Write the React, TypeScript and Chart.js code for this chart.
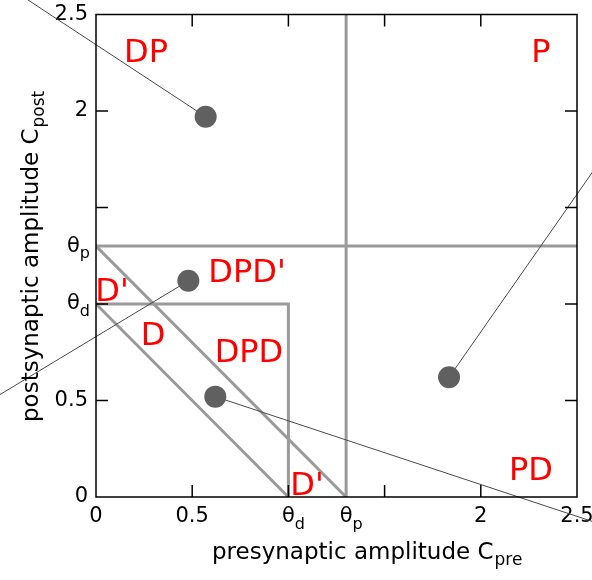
import React, { useEffect, useRef } from "react";
import { Chart, registerables } from "chart.js";

Chart.register(...registerables);

// thresholds
const THETA_D = 1.0;
const THETA_P = 1.3;

// axis ticks
const tickValues = [0, 0.5, 1, 1.3, 1.5, 2, 2.5];
const tickLabels = ["0", "0.5", "", "", "", "2", "2.5"];
const tickMarkValues = [0.5, 1, 1.5, 2];
const thetaValues = [THETA_D, THETA_P];
const thetaSubs = ["d", "p"];

// example points (C_pre, C_post)
const pointsX = [0.57, 0.48, 0.62, 1.835];
const pointsY = [1.97, 1.12, 0.52, 0.62];
// far end of the thin line attached to each point
const trailEndX = [-0.62, -0.55, 2.62, 2.62];
const trailEndY = [2.75, 0.5, -0.14, 1.74];

// region labels
const regionNames = ["DP", "P", "DPD'", "D'", "D", "DPD", "D'", "PD"];
const regionX = [0.26, 2.313, 0.785, 0.083, 0.296, 0.795, 1.097, 2.261];
const regionY = [2.316, 2.316, 1.176, 1.078, 0.85, 0.762, 0.073, 0.15];

// axis titles
const xTitleMain = "presynaptic amplitude C";
const xTitleSub = "pre";
const yTitleMain = "postsynaptic amplitude C";
const yTitleSub = "post";

const FONT = "'DejaVu Sans', sans-serif";
const GRAY = "#9a9a9a";

const decor = {
  id: "decor",
  afterDatasetsDraw(chart: any) {
    const { ctx, chartArea: a, scales } = chart;
    const x = scales.x;
    const y = scales.y;
    ctx.save();
    // frame
    ctx.strokeStyle = "#000";
    ctx.lineWidth = 1.5;
    ctx.strokeRect(a.left, a.top, a.right - a.left, a.bottom - a.top);
    // inward tick marks on all four sides
    const L = 12;
    const seg = (x1: number, y1: number, x2: number, y2: number) => {
      ctx.beginPath();
      ctx.moveTo(x1, y1);
      ctx.lineTo(x2, y2);
      ctx.stroke();
    };
    tickMarkValues.forEach((v) => {
      const px = x.getPixelForValue(v);
      seg(px, a.bottom, px, a.bottom - L);
      seg(px, a.top, px, a.top + L);
      const py = y.getPixelForValue(v);
      seg(a.left, py, a.left + L, py);
      seg(a.right, py, a.right - L, py);
    });

    // region labels
    ctx.fillStyle = "#ff0000";
    ctx.font = `32px ${FONT}`;
    ctx.textAlign = "center";
    ctx.textBaseline = "alphabetic";
    regionNames.forEach((n, i) => {
      const px = x.getPixelForValue(regionX[i]);
      const py = y.getPixelForValue(regionY[i]);
      ctx.fillText(n, px, py + 32 * 0.365);
    });

    // theta tick labels
    ctx.fillStyle = "#000";
    const big = `21px ${FONT}`;
    const small = `16px ${FONT}`;
    thetaValues.forEach((v, i) => {
      // x axis
      const px = x.getPixelForValue(v);
      const cy = a.bottom + 8 + 12;
      ctx.font = big;
      ctx.textAlign = "center";
      ctx.textBaseline = "middle";
      const wt = ctx.measureText("θ").width;
      ctx.fillText("θ", px, cy);
      ctx.font = small;
      ctx.textAlign = "left";
      ctx.fillText(thetaSubs[i], px + wt / 2, cy + 8);
      // y axis
      const py = y.getPixelForValue(v);
      ctx.font = small;
      const ws = ctx.measureText(thetaSubs[i]).width;
      ctx.textAlign = "right";
      ctx.fillText(thetaSubs[i], a.left - 6, py + 8);
      ctx.font = big;
      ctx.fillText("θ", a.left - 6 - ws, py);
    });

    // axis titles
    ctx.textBaseline = "alphabetic";
    ctx.textAlign = "left";
    const drawTitle = (main: string, sub: string, sx: number, by: number) => {
      ctx.font = `23px ${FONT}`;
      ctx.fillText(main, sx, by);
      const wm = ctx.measureText(main).width;
      ctx.font = `17px ${FONT}`;
      ctx.fillText(sub, sx + wm + 1, by + 6);
    };
    drawTitle(xTitleMain, xTitleSub, 212, 559);
    ctx.save();
    ctx.translate(38, 422);
    ctx.rotate(-Math.PI / 2);
    drawTitle(yTitleMain, yTitleSub, 0, 0);
    ctx.restore();

    ctx.restore();
  },
};

export default function App() {
  const ref = useRef<HTMLCanvasElement | null>(null);
  useEffect(() => {
    if (!ref.current) return;
    const grayLine = (pts: { x: number; y: number }[]) => ({
      type: "scatter" as const,
      data: pts,
      showLine: true,
      borderColor: GRAY,
      borderWidth: 3,
      pointRadius: 0,
      fill: false,
      order: 3,
    });
    const datasets: any[] = [
      {
        type: "scatter",
        data: pointsX.map((v, i) => ({ x: v, y: pointsY[i] })),
        pointRadius: 11,
        pointHoverRadius: 11,
        backgroundColor: "#606060",
        borderWidth: 0,
        order: 0,
      },
      ...pointsX.map((v, i) => ({
        type: "scatter",
        data: [
          { x: v, y: pointsY[i] },
          { x: trailEndX[i], y: trailEndY[i] },
        ],
        showLine: true,
        borderColor: "#4a4a4a",
        borderWidth: 1,
        pointRadius: 0,
        clip: false,
        order: 1,
      })),
      grayLine([
        { x: 0, y: THETA_P },
        { x: 2.5, y: THETA_P },
      ]),
      grayLine([
        { x: THETA_P, y: 0 },
        { x: THETA_P, y: 2.5 },
      ]),
      grayLine([
        { x: 0, y: THETA_D },
        { x: THETA_D, y: THETA_D },
        { x: THETA_D, y: 0 },
      ]),
      grayLine([
        { x: 0, y: THETA_D },
        { x: THETA_D, y: 0 },
      ]),
      grayLine([
        { x: 0, y: THETA_P },
        { x: THETA_P, y: 0 },
      ]),
    ];
    const axis = (isX: boolean) => ({
      type: "linear",
      min: 0,
      max: 2.5,
      afterBuildTicks: (s: any) => {
        s.ticks = tickValues.map((v) => ({ value: v }));
      },
      ticks: {
        callback: (_v: any, i: number) => tickLabels[i],
        font: { family: "DejaVu Sans", size: 21 },
        color: "#000",
        padding: isX ? 7 : 8,
        maxRotation: 0,
        autoSkip: false,
      },
      grid: { display: false, drawTicks: false },
      border: { display: false },
      afterFit: (s: any) => {
        if (isX) s.height = 83;
        else s.width = 96;
        s.paddingTop = 0;
        s.paddingBottom = 0;
        s.paddingLeft = 0;
        s.paddingRight = 0;
      },
    });
    const chart = new Chart(ref.current, {
      type: "scatter",
      data: { datasets },
      options: {
        responsive: false,
        animation: false,
        layout: { padding: { top: 14.5, right: 15, left: 0, bottom: 0 } },
        plugins: { legend: { display: false }, tooltip: { enabled: false } },
        events: [],
        scales: { x: axis(true), y: axis(false) } as any,
      },
      plugins: [decor],
    });
    return () => chart.destroy();
  }, []);
  return (
    <div style={{ position: "fixed", left: 0, top: 0, width: 592, height: 580 }}>
      <canvas
        ref={ref}
        width={592}
        height={580}
        style={{ display: "block", width: 592, height: 580 }}
      />
    </div>
  );
}
